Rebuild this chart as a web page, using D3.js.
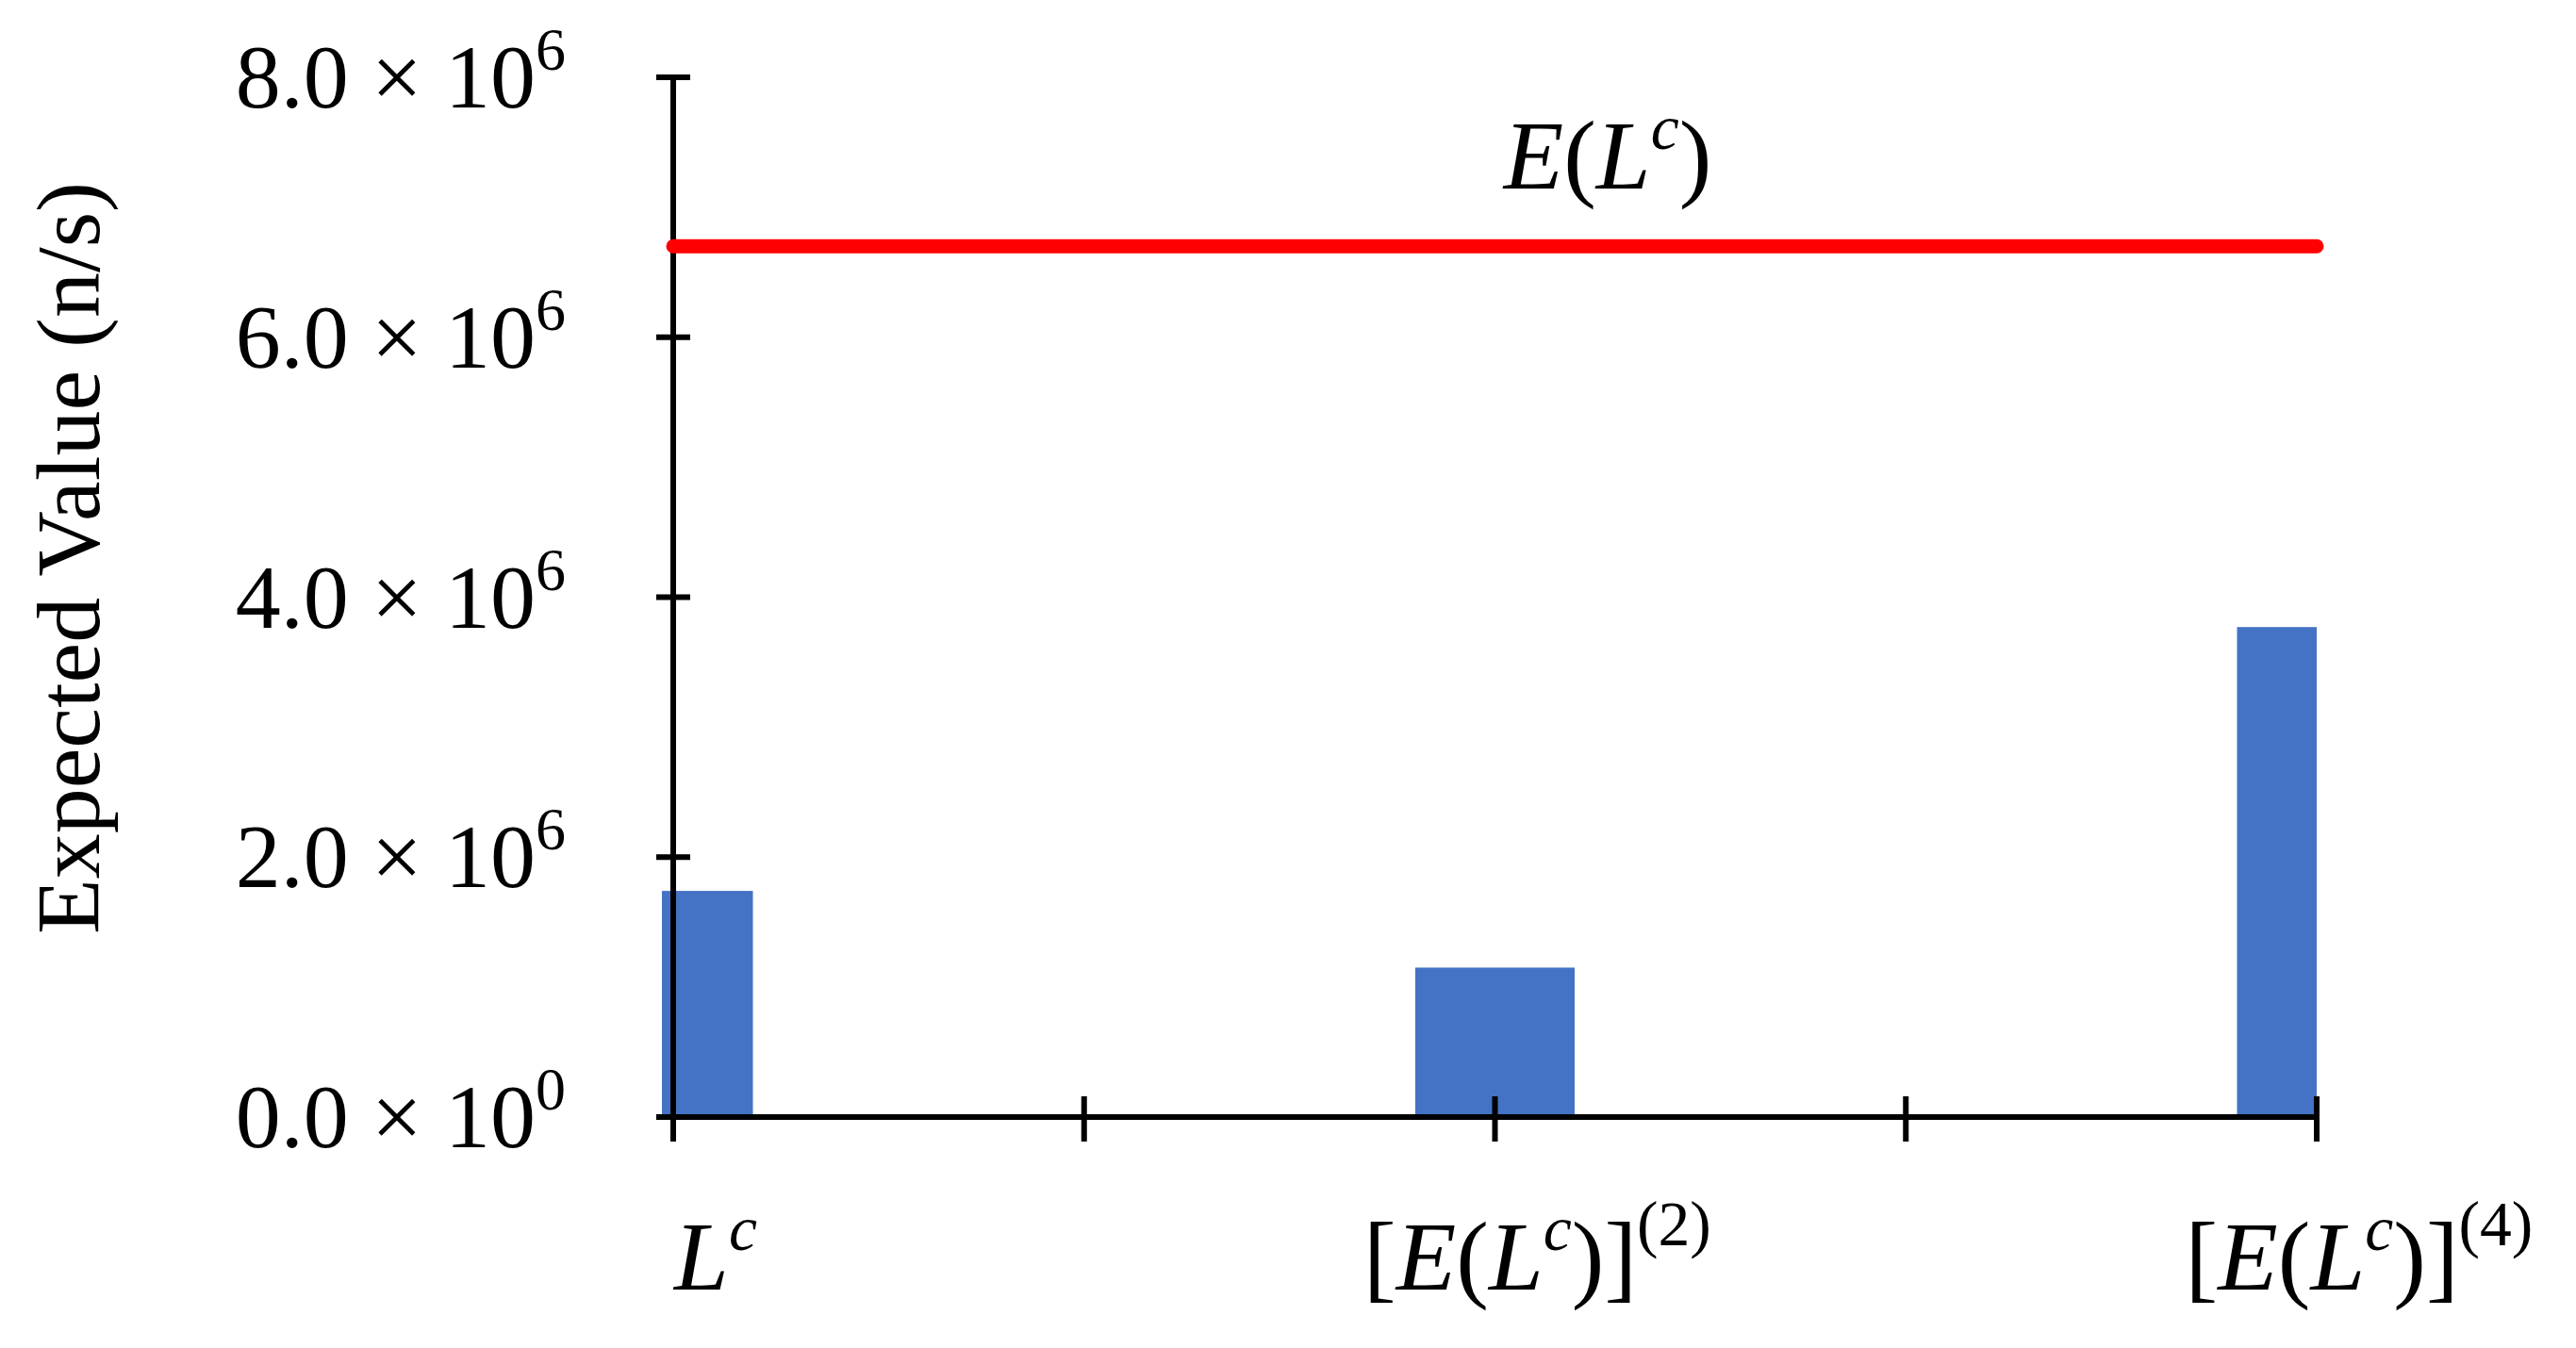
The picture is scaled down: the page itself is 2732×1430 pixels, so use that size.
<!DOCTYPE html>
<html><head><meta charset="utf-8">
<script src="https://cdn.jsdelivr.net/npm/d3@7"></script>
<style>body{margin:0;background:#fff}text{font-family:"Liberation Serif","Times New Roman",Times,serif}</style>
</head><body><svg id="c" width="2732" height="1430"></svg>
<script>
const categories = ["Lc", "E2", "E4"];
const barValues = [1.74e6, 1.15e6, 3.77e6];
const refValue = 6.70e6;
const yTicks = [0, 2e6, 4e6, 6e6, 8e6];
const yTickMant = ["0.0", "2.0", "4.0", "6.0", "8.0"];
const yTickExp = ["0", "6", "6", "6", "6"];

const svg = d3.select("#c");
const L = 714, R = 2457, T = 82, B = 1185;
const x = d3.scalePoint().domain(categories).range([L, R]);
const y = d3.scaleLinear().domain([0, 8e6]).range([B, T]);
const bw = 169;

svg.append("clipPath").attr("id","clip").append("rect")
  .attr("x", L - 12).attr("y", 0).attr("width", R - L + 12).attr("height", 1430);

svg.append("g").attr("clip-path","url(#clip)").selectAll("rect").data(barValues).join("rect")
  .attr("x",(d,i)=>x(categories[i]) - bw/2).attr("width",bw)
  .attr("y",d=>y(d)).attr("height",d=>B - y(d)).attr("fill","#4472C4");

svg.append("line").attr("x1",L).attr("x2",L).attr("y1",T).attr("y2",B).attr("stroke","#000").attr("stroke-width",6);
svg.append("line").attr("x1",L).attr("x2",R).attr("y1",B).attr("y2",B).attr("stroke","#000").attr("stroke-width",6);
yTicks.forEach((t,i)=>{
  svg.append("line").attr("x1",L-18).attr("x2",L+18).attr("y1",y(t)).attr("y2",y(t)).attr("stroke","#000").attr("stroke-width",6);
  const tx = svg.append("text").attr("x",600).attr("y",y(t)+32).attr("text-anchor","end").attr("font-size",96);
  tx.append("tspan").text(yTickMant[i] + " \u00d7 10");
  tx.append("tspan").attr("font-size",64).attr("dy",-40).text(yTickExp[i]);
});
const xt = d3.range(5).map(i => L + i*(R-L)/4);
xt.forEach(v=>svg.append("line").attr("x1",v).attr("x2",v).attr("y1",B-22).attr("y2",B+26).attr("stroke","#000").attr("stroke-width",6));

svg.append("line").attr("x1",L).attr("x2",R).attr("y1",y(refValue)).attr("y2",y(refValue))
  .attr("stroke","#FF0000").attr("stroke-width",15).attr("stroke-linecap","round");

function eLc(t, fs){
  t.append("tspan").attr("font-style","italic").text("E");
  t.append("tspan").text("(");
  t.append("tspan").attr("font-style","italic").text("L");
  t.append("tspan").attr("font-style","italic").attr("font-size",fs*0.65).attr("dy",-fs*0.4).text("c");
  t.append("tspan").attr("dy",fs*0.4).text(")");
}
const fs = 104;
let t = svg.append("text").attr("x",1705).attr("y",200).attr("text-anchor","middle").attr("font-size",fs);
eLc(t, fs);

t = svg.append("text").attr("x",x("Lc")+45).attr("y",1368).attr("text-anchor","middle").attr("font-size",fs);
t.append("tspan").attr("font-style","italic").text("L");
t.append("tspan").attr("font-style","italic").attr("font-size",fs*0.65).attr("dy",-fs*0.4).text("c");
[["E2","2"],["E4","4"]].forEach(([c,n])=>{
  const tt = svg.append("text").attr("x",x(c)+45).attr("y",1368).attr("text-anchor","middle").attr("font-size",fs);
  tt.append("tspan").text("[");
  eLc(tt, fs);
  tt.append("tspan").text("]");
  tt.append("tspan").attr("font-size",fs*0.65).attr("dy",-fs*0.45).text("("+n+")");
});

svg.append("text").attr("transform","translate(105,592) rotate(-90)").attr("text-anchor","middle")
  .attr("font-size",96).text("Expected Value (n/s)");
</script></body></html>
